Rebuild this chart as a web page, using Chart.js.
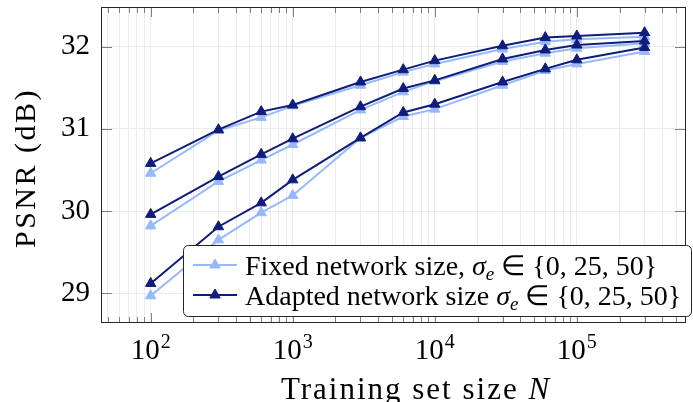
<!DOCTYPE html>
<html>
<head>
<meta charset="utf-8">
<script src="https://cdn.jsdelivr.net/npm/chart.js@4.4.0/dist/chart.umd.min.js"></script>
<style>
  html, body { margin: 0; padding: 0; background: #fff; }
  #wrap { width: 693px; height: 402px; }
</style>
</head>
<body>
<div id="wrap"><canvas id="psnr" width="693" height="402"></canvas></div>
<script>
// training set sizes N
const sizes = [100, 300, 600, 1000, 3000, 6000, 10000, 30000, 60000, 100000, 300000];

// PSNR (dB), one curve per noise level, fixed vs adapted network size
const fixedHigh   = [30.46, 30.98, 31.14, 31.28, 31.53, 31.69, 31.79, 31.97, 32.06, 32.09, 32.12];
const fixedMid    = [29.82, 30.36, 30.62, 30.81, 31.23, 31.45, 31.58, 31.82, 31.92, 31.98, 32.04];
const fixedLow    = [28.97, 29.65, 29.98, 30.19, 30.89, 31.15, 31.24, 31.53, 31.71, 31.79, 31.94];
const adaptedHigh = [30.58, 30.99, 31.21, 31.29, 31.57, 31.72, 31.83, 32.01, 32.11, 32.13, 32.17];
const adaptedMid  = [29.96, 30.42, 30.69, 30.88, 31.27, 31.49, 31.59, 31.85, 31.96, 32.02, 32.07];
const adaptedLow  = [29.12, 29.81, 30.10, 30.38, 30.89, 31.20, 31.30, 31.57, 31.73, 31.84, 31.99];

const yTicks = [29, 30, 31, 32];
const legendRows = [
  ['Fixed network size, ', ' ∈ {0, 25, 50}'],
  ['Adapted network size ', ' ∈ {0, 25, 50}']
];

const LIGHT = '#97b9fb';
const DARK = '#0f1c7b';
const SERIF = '"Liberation Serif", "Times New Roman", serif';

function points(vals) {
  return sizes.map((n, i) => ({ x: n, y: vals[i] }));
}

function series(vals, color, order) {
  return {
    data: points(vals),
    borderColor: color,
    backgroundColor: color,
    borderWidth: 2,
    pointStyle: 'triangle',
    pointRadius: 6,
    pointBorderWidth: 1,
    pointHoverRadius: 6,
    order: order
  };
}

function isMajor(v) {
  const e = Math.log10(v);
  return Math.abs(e - Math.round(e)) < 1e-9;
}

// pgfplots style: frame, inward ticks, tick labels with exponents, legend box
const decorations = {
  id: 'decorations',
  afterDatasetsDraw(chart) {
    const { ctx, chartArea: a, scales: { x, y } } = chart;
    ctx.save();

    // inward ticks on all four sides
    ctx.strokeStyle = '#808080';
    ctx.lineWidth = 1;
    ctx.beginPath();
    x.ticks.forEach(t => {
      const px = Math.round(x.getPixelForValue(t.value)) + 0.5;
      const len = isMajor(t.value) ? 10 : 6;
      ctx.moveTo(px, a.bottom); ctx.lineTo(px, a.bottom - len);
      ctx.moveTo(px, a.top); ctx.lineTo(px, a.top + len);
    });
    y.ticks.forEach(t => {
      const py = Math.round(y.getPixelForValue(t.value)) + 0.5;
      ctx.moveTo(a.left, py); ctx.lineTo(a.left + 11, py);
      ctx.moveTo(a.right, py); ctx.lineTo(a.right - 11, py);
    });
    ctx.stroke();

    // frame
    ctx.strokeStyle = '#262626';
    ctx.strokeRect(a.left + 0.5, a.top + 0.5, a.right - a.left - 1, a.bottom - a.top - 1);

    // x tick labels 10^n
    ctx.fillStyle = '#000';
    ctx.textBaseline = 'alphabetic';
    ctx.textAlign = 'left';
    x.ticks.filter(t => isMajor(t.value)).forEach(t => {
      const px = x.getPixelForValue(t.value);
      const exp = String(Math.round(Math.log10(t.value)));
      ctx.font = '29px ' + SERIF;
      const wb = ctx.measureText('10').width;
      ctx.font = '20px ' + SERIF;
      const we = ctx.measureText(exp).width;
      const x0 = px - (wb + we + 1) / 2;
      ctx.font = '29px ' + SERIF;
      ctx.fillText('10', x0, 359);
      ctx.font = '20px ' + SERIF;
      ctx.fillText(exp, x0 + wb + 1, 348);
    });

    // x axis title
    ctx.letterSpacing = '2px';
    ctx.font = '31px ' + SERIF;
    const t1 = 'Training set size ';
    const w1 = ctx.measureText(t1).width;
    ctx.font = 'italic 31px ' + SERIF;
    const w2 = ctx.measureText('N').width;
    const tx = 416 - (w1 + w2) / 2;
    ctx.font = '31px ' + SERIF;
    ctx.fillText(t1, tx, 399);
    ctx.font = 'italic 31px ' + SERIF;
    ctx.fillText('N', tx + w1, 399);

    // y axis title
    ctx.save();
    ctx.translate(35, 168);
    ctx.rotate(-Math.PI / 2);
    ctx.letterSpacing = '2.5px';
    ctx.font = '30px ' + SERIF;
    ctx.textAlign = 'center';
    ctx.fillText('PSNR (dB)', 0, 0);
    ctx.restore();
    ctx.letterSpacing = '0px';

    // legend
    const lx = 183.5, ly = 245.5, lw = 508, lh = 71, r = 5;
    ctx.beginPath();
    ctx.moveTo(lx + r, ly);
    ctx.arcTo(lx + lw, ly, lx + lw, ly + lh, r);
    ctx.arcTo(lx + lw, ly + lh, lx, ly + lh, r);
    ctx.arcTo(lx, ly + lh, lx, ly, r);
    ctx.arcTo(lx, ly, lx + lw, ly, r);
    ctx.closePath();
    ctx.fillStyle = '#fff';
    ctx.fill();
    ctx.strokeStyle = '#262626';
    ctx.lineWidth = 1;
    ctx.stroke();

    const rowY = [265, 295];
    const baseY = [275, 305];
    [LIGHT, DARK].forEach((c, i) => {
      ctx.strokeStyle = c;
      ctx.fillStyle = c;
      ctx.lineWidth = 2;
      ctx.beginPath();
      ctx.moveTo(193, rowY[i]);
      ctx.lineTo(237, rowY[i]);
      ctx.stroke();
      ctx.lineWidth = 1;
      ctx.beginPath();
      for (let k = 0; k < 3; k++) {
        const ang = -Math.PI / 2 + k * 2 * Math.PI / 3;
        const vx = 215 + 6 * Math.cos(ang), vy = rowY[i] + 6 * Math.sin(ang);
        if (k === 0) ctx.moveTo(vx, vy); else ctx.lineTo(vx, vy);
      }
      ctx.closePath();
      ctx.fill();
      ctx.stroke();

      ctx.fillStyle = '#000';
      let cx = 245;
      ctx.font = '28px ' + SERIF;
      ctx.fillText(legendRows[i][0], cx, baseY[i]);
      cx += ctx.measureText(legendRows[i][0]).width;
      ctx.font = 'italic 28px ' + SERIF;
      ctx.fillText('σ', cx, baseY[i]);
      cx += ctx.measureText('σ').width;
      ctx.font = 'italic 19px ' + SERIF;
      ctx.fillText('e', cx, baseY[i] + 5);
      cx += ctx.measureText('e').width;
      ctx.font = '28px ' + SERIF;
      ctx.fillText(legendRows[i][1], cx, baseY[i]);
    });

    ctx.restore();
  }
};

new Chart(document.getElementById('psnr'), {
  type: 'line',
  data: {
    datasets: [
      series(fixedHigh, LIGHT, 2),
      series(fixedMid, LIGHT, 2),
      series(fixedLow, LIGHT, 2),
      series(adaptedHigh, DARK, 1),
      series(adaptedMid, DARK, 1),
      series(adaptedLow, DARK, 1)
    ]
  },
  options: {
    responsive: false,
    animation: false,
    devicePixelRatio: 1,
    layout: { padding: { top: 4, right: 3, left: 0, bottom: 0 } },
    plugins: {
      legend: { display: false },
      tooltip: { enabled: false }
    },
    scales: {
      x: {
        type: 'logarithmic',
        min: 44.7,
        max: 587000,
        afterBuildTicks(scale) {
          const ticks = [];
          for (let e = 1; e <= 5; e++) {
            for (let m = 1; m <= 9; m++) {
              const v = m * Math.pow(10, e);
              if (v >= scale.min && v <= scale.max) ticks.push({ value: v });
            }
          }
          scale.ticks = ticks;
        },
        afterFit(scale) {
          scale.height = 79;
          scale.paddingLeft = 0;
          scale.paddingRight = 0;
        },
        ticks: { display: false },
        grid: { color: '#ebebeb', drawTicks: false },
        border: { display: false }
      },
      y: {
        min: 28.639,
        max: 32.482,
        afterBuildTicks(scale) {
          scale.ticks = yTicks.map(v => ({ value: v }));
        },
        afterFit(scale) {
          scale.width = 101;
          scale.paddingTop = 0;
          scale.paddingBottom = 0;
        },
        ticks: {
          padding: 11,
          color: '#000',
          font: { family: SERIF, size: 29 }
        },
        grid: { color: '#ebebeb', drawTicks: false },
        border: { display: false }
      }
    }
  },
  plugins: [decorations]
});
</script>
</body>
</html>
